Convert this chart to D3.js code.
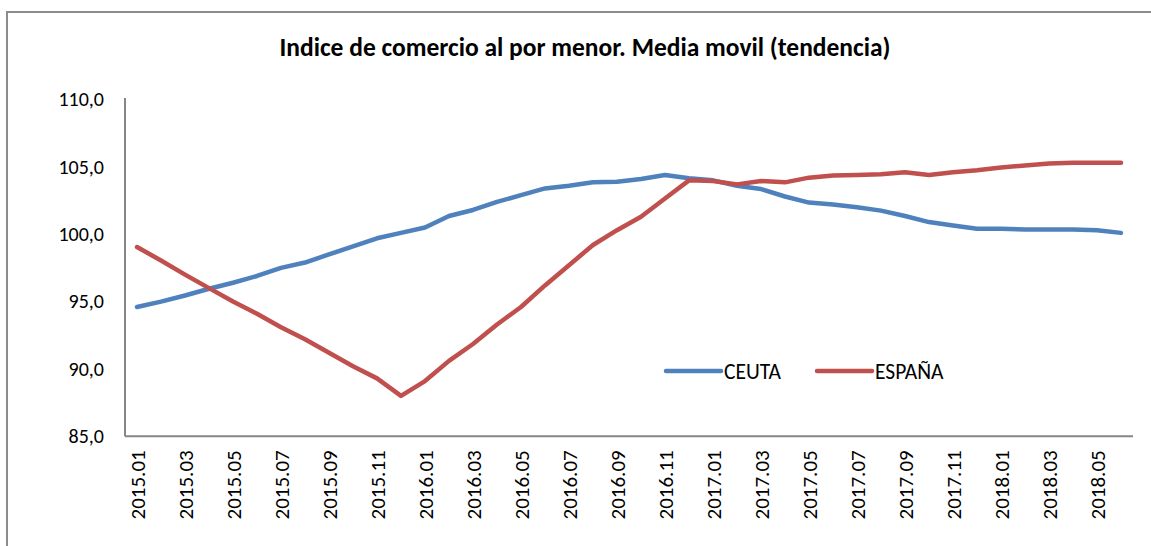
<!DOCTYPE html>
<html>
<head>
<meta charset="utf-8">
<script src="https://cdn.jsdelivr.net/npm/d3@7"></script>
<style>
    body { margin: 0; background: #fff; }
    svg { display: block; }
</style>
</head>
<body>
<div id="chart"></div>
<script>
const months = [
    "2015.01", "2015.02", "2015.03", "2015.04", "2015.05", "2015.06", "2015.07", "2015.08", "2015.09", "2015.10", "2015.11", "2015.12",
    "2016.01", "2016.02", "2016.03", "2016.04", "2016.05", "2016.06", "2016.07", "2016.08", "2016.09", "2016.10", "2016.11", "2016.12",
    "2017.01", "2017.02", "2017.03", "2017.04", "2017.05", "2017.06", "2017.07", "2017.08", "2017.09", "2017.10", "2017.11", "2017.12",
    "2018.01", "2018.02", "2018.03", "2018.04", "2018.05", "2018.06"
];

const ceuta = [
    94.6, 95.0, 95.45, 95.95, 96.4, 96.9, 97.5, 97.9, 98.5, 99.1, 99.7, 100.1,
    100.5, 101.35, 101.8, 102.4, 102.9, 103.4, 103.6, 103.85, 103.9, 104.1, 104.4, 104.15,
    104.0, 103.6, 103.35, 102.8, 102.35, 102.2, 102.0, 101.75, 101.35, 100.9, 100.65, 100.4,
    100.4, 100.35, 100.35, 100.35, 100.3, 100.1
];

const espana = [
    99.05, 98.05, 97.0, 96.0, 95.0, 94.1, 93.1, 92.2, 91.2, 90.2, 89.3, 88.0,
    89.1, 90.6, 91.85, 93.3, 94.6, 96.2, 97.7, 99.2, 100.3, 101.3, 102.65, 104.0,
    103.95, 103.7, 103.95, 103.85, 104.2, 104.35, 104.4, 104.45, 104.6, 104.4, 104.6, 104.75,
    104.95, 105.1, 105.25, 105.3, 105.3, 105.3
];

const yTicks = [85, 90, 95, 100, 105, 110];
const seriesNames = ["CEUTA", "ESPAÑA"];
const title = "Indice de comercio al por menor. Media movil (tendencia)";

function init() {
    const W = 1151, H = 546;
    const font = "Carlito, Calibri, Lato, sans-serif";
    const axisColor = "#868686";
    const color = d3.scaleOrdinal().domain(seriesNames).range(["#4F81BD", "#C0504D"]);

    const svg = d3.select("#chart")
        .append("svg")
        .attr("width", W)
        .attr("height", H)
        .attr("font-family", font);

    // outer frame (right and bottom edges fall outside the picture)
    svg.append("rect")
        .attr("x", 7)
        .attr("y", 12)
        .attr("width", 1160)
        .attr("height", 560)
        .attr("fill", "#fff")
        .attr("stroke", "#8c8c8c")
        .attr("stroke-width", 2);

    const x = d3.scalePoint()
        .domain(months)
        .range([125, 1133])
        .padding(0.5);

    const y = d3.scaleLinear()
        .domain([85, 110])
        .range([436.3, 99.5]);

    svg.append("text")
        .attr("x", 585)
        .attr("y", 56)
        .attr("text-anchor", "middle")
        .attr("font-weight", "bold")
        .attr("font-size", "25.5px")
        .attr("fill", "#000")
        .text(title);

    // y axis
    const yAxis = svg.append("g")
        .attr("transform", "translate(125,0)")
        .call(d3.axisLeft(y).tickValues(yTicks).tickSize(0).tickPadding(21)
            .tickFormat(d => d3.format(".1f")(d).replace(".", ",")));
    yAxis.select(".domain").attr("stroke", axisColor).attr("stroke-width", 2)
        .attr("d", `M0,${y(110) - 1.5}V${y(85)}`);
    yAxis.selectAll("text").attr("font-family", font).attr("font-size", "20px").attr("fill", "#000");

    // x axis
    const xAxis = svg.append("g")
        .attr("transform", `translate(0,${y(85)})`)
        .call(d3.axisBottom(x).tickSize(0)
            .tickValues(months.filter((d, i) => i % 2 === 0)));
    xAxis.select(".domain").attr("stroke", axisColor).attr("stroke-width", 2)
        .attr("d", `M125,0H1133`);
    xAxis.selectAll(".tick text")
        .attr("font-family", font)
        .attr("font-size", "21px")
        .attr("fill", "#000")
        .attr("text-anchor", "end")
        .attr("dy", "0.35em")
        .attr("y", 0)
        .attr("transform", "translate(0,14) rotate(-90)");

    const line = d3.line()
        .x((d, i) => x(months[i]))
        .y(d => y(d));

    const series = [
        { name: "CEUTA", values: ceuta },
        { name: "ESPAÑA", values: espana }
    ];

    svg.append("g")
        .selectAll("path")
        .data(series)
        .join("path")
        .attr("fill", "none")
        .attr("stroke", d => color(d.name))
        .attr("stroke-width", 4.5)
        .attr("stroke-linejoin", "round")
        .attr("stroke-linecap", "round")
        .attr("d", d => line(d.values));

    // Legend
    const legend = svg.append("g")
        .selectAll("g")
        .data(seriesNames)
        .join("g")
        .attr("transform", (d, i) => `translate(${666 + i * 151},371)`);

    legend.append("line")
        .attr("x1", 0)
        .attr("x2", 55)
        .attr("stroke", d => color(d))
        .attr("stroke-width", 4.5)
        .attr("stroke-linecap", "round");

    legend.append("text")
        .attr("x", 58)
        .attr("dy", "0.35em")
        .attr("font-size", "21.5px")
        .attr("fill", "#000")
        .text(d => d);
}

window.onload = init;
</script>
</body>
</html>
